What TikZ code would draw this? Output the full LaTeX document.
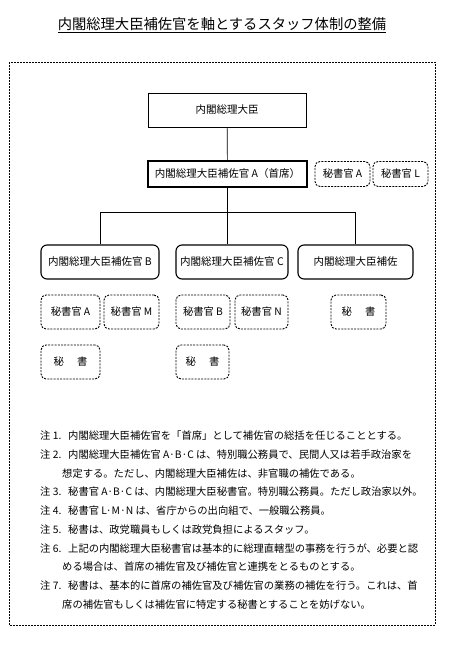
\documentclass[tikz,border=0pt]{standalone}
\usepackage{fontspec}
\setmainfont{Noto Sans CJK JP}
\usetikzlibrary{positioning}

\begin{document}
\begin{tikzpicture}[x=1pt, y=-1pt,
    headbox/.style={rectangle, draw, line width=0.8pt, inner sep=0pt,
                    font=\fontsize{10.5}{12}\selectfont},
    aidebox/.style={rectangle, rounded corners=6pt, draw, line width=1.1pt, inner sep=0pt,
                    minimum height=34pt, font=\fontsize{10.5}{12}\selectfont},
    secbox/.style={rectangle, rounded corners=5pt, draw, dash pattern=on 2pt off 1.2pt,
                   line width=0.9pt, inner sep=0pt, font=\fontsize{10.3}{12}\selectfont},
    notelabel/.style={anchor=north west, inner sep=0pt, font=\fontsize{10.3}{18.7}\selectfont},
    notetext/.style={anchor=north west, align=left, inner sep=0pt,
                     font=\fontsize{10.3}{18.7}\selectfont},
    link/.style={line width=0.7pt}
  ]
    \useasboundingbox (0,0) rectangle (463,647);

    % Title
    \node[font=\fontsize{14.3}{16}\selectfont, inner sep=0pt] (title) at (222,25)
      {\underline{内閣総理大臣補佐官を軸とするスタッフ体制の整備}};

    % Outer frame
    \draw[line width=0.7pt, dash pattern=on 2pt off 1pt] (9,62) rectangle (435,625);

    % Top of the chart
    \node[headbox, minimum width=158pt, minimum height=34pt] (pm) at (227,110) {内閣総理大臣};
    \node[headbox, line width=1.1pt, minimum width=159pt, minimum height=26pt] (hosaA) at (227.5,174)
      {内閣総理大臣補佐官 A（首席）};
    \node[secbox, minimum width=55pt, minimum height=25pt] (hisyoA) at (342.5,174) {秘書官 A};
    \node[secbox, minimum width=55pt, minimum height=25pt] (hisyoL) at (400.5,174) {秘書官 L};

    % Aides
    \node[aidebox, minimum width=118pt] (hosaB) at (100,262) {内閣総理大臣補佐官 B};
    \node[aidebox, minimum width=112pt] (hosaC) at (232,262) {内閣総理大臣補佐官 C};
    \node[aidebox, minimum width=115pt] (hosa) at (355.5,262) {内閣総理大臣補佐};

    % Secretaries
    \node[secbox, minimum width=59pt, minimum height=34pt] (hisyoBa) at (70.5,312) {秘書官 A};
    \node[secbox, minimum width=55pt, minimum height=34pt] (hisyoM) at (131.5,312) {秘書官 M};
    \node[secbox, minimum width=54pt, minimum height=34pt] (hisyoCb) at (203,312) {秘書官 B};
    \node[secbox, minimum width=53pt, minimum height=34pt] (hisyoN) at (261.5,312) {秘書官 N};
    \node[secbox, minimum width=55pt, minimum height=34pt] (staffD) at (358.5,312) {秘\hspace{1.3em}書};
    \node[secbox, minimum width=59pt, minimum height=34pt] (staffB) at (70.5,362) {秘\hspace{1.3em}書};
    \node[secbox, minimum width=53pt, minimum height=34pt] (staffC) at (202.5,362) {秘\hspace{1.3em}書};

    % Lines
    \coordinate (bus) at (0,212);
    \draw[link] (pm) -- (hosaA);
    \draw[link] (hosaA.south) -- (hosaA.south |- hosaC.north);
    \draw[link] (hosaB.north) |- (hosa.north |- bus) -- (hosa.north);

    % Notes
    \node[notelabel] (n1) at (40,431) {注 1.};
    \node[notetext] (t1) at (68,431) {内閣総理大臣補佐官を「首席」として補佐官の総括を任じることとする。};
    \node[notelabel] (n2) at (40,449.7) {注 2.};
    \node[notetext] (t2) at (68,449.7) {内閣総理大臣補佐官 A·B·C は、特別職公務員で、民間人又は若手政治家を\\\hspace{-6pt}想定する。ただし、内閣総理大臣補佐は、非官職の補佐である。};
    \node[notelabel] (n3) at (40,487.1) {注 3.};
    \node[notetext] (t3) at (68,487.1) {秘書官 A·B·C は、内閣総理大臣秘書官。特別職公務員。ただし政治家以外。};
    \node[notelabel] (n4) at (40,505.8) {注 4.};
    \node[notetext] (t4) at (68,505.8) {秘書官 L·M·N は、省庁からの出向組で、一般職公務員。};
    \node[notelabel] (n5) at (40,524.5) {注 5.};
    \node[notetext] (t5) at (68,524.5) {秘書は、政党職員もしくは政党負担によるスタッフ。};
    \node[notelabel] (n6) at (40,543.2) {注 6.};
    \node[notetext] (t6) at (68,543.2) {上記の内閣総理大臣秘書官は基本的に総理直轄型の事務を行うが、必要と認\\\hspace{-6pt}める場合は、首席の補佐官及び補佐官と連携をとるものとする。};
    \node[notelabel] (n7) at (40,580.6) {注 7.};
    \node[notetext] (t7) at (68,580.6) {秘書は、基本的に首席の補佐官及び補佐官の業務の補佐を行う。これは、首\\\hspace{-6pt}席の補佐官もしくは補佐官に特定する秘書とすることを妨げない。};
  \end{tikzpicture}
\end{document}
